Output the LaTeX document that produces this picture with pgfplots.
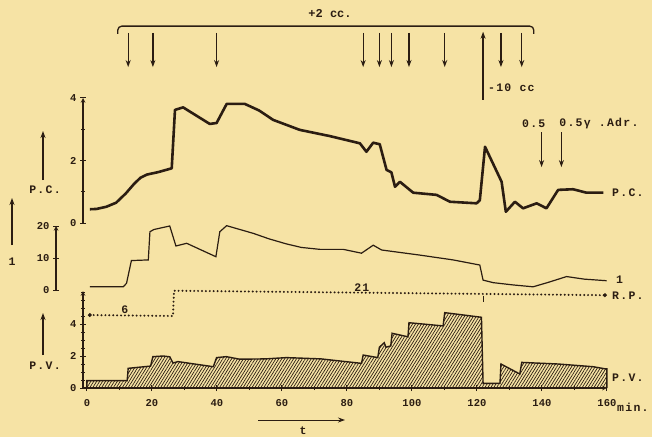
\documentclass[border=0pt]{standalone}
\usepackage{fontspec}
\setmainfont{Liberation Mono}
\newfontfamily\tw{Liberation Mono}[LetterSpace=11]
\usepackage{pgfplots}
\pgfplotsset{compat=1.18}
\usetikzlibrary{patterns.meta,arrows.meta}
\definecolor{paper}{HTML}{F6E3A5}
\definecolor{ink}{HTML}{2B1D12}
\pgfplotsset{base/.style={x=3.25pt, xmax=160, clip=false,
  axis line style={ink, line width=1.1pt, -},
  tick style={ink, line width=1pt},
  major tick length=6pt, minor tick length=4pt, tick align=center,
  tick label style={font=\fontsize{10.5}{12}\selectfont\bfseries, text=ink},
  /pgf/number format/assume math mode=true}}
\tikzset{arr/.style={ink, line width=1.3pt, -{Stealth[length=7pt,width=5pt]}},
  lab/.style={text=ink, font=\tw\bfseries\fontsize{11.5}{13}\selectfont, inner sep=0pt}}
\begin{document}
\begin{tikzpicture}
\path[use as bounding box, fill=paper] (0,0) rectangle (652pt,437pt);
% ---------- P.V. panel ----------
\begin{axis}[base, at={(83pt,49pt)}, anchor=south west,
  xmin=-1.2, ymin=0, ymax=6.06, y=16pt,
  axis x line=bottom, axis y line=left,
  xtick={0,20,...,160}, minor xtick={10,30,...,150},
  ytick={0,2,4}, minor ytick={0.5,1,...,6},
  xticklabel style={yshift=-5pt}]
\addplot[ink, line width=1.4pt, pattern={Lines[angle=58, distance=2.5pt, line width=0.7pt]}, pattern color=ink] coordinates {
(0,0) (0,0.46) (12.4,0.46) (12.7,1.23) (19.6,1.37) (20.3,1.96) (23.5,2.0) (25.5,1.95) (26.5,1.56) (28,1.65) (38.9,1.33) (39.9,1.9) (42.9,1.96) (47,1.8) (55,1.82) (61.4,1.9) (72,1.82) (84.5,1.54) (85,2.06) (89.5,1.9) (90,2.55) (91.5,2.83) (92,2.55) (93.5,2.63) (93.9,3.42) (98.8,3.2) (99.1,4.08) (109.6,3.88) (110.1,4.71) (121.4,4.42) (121.9,0.29) (127.1,0.29) (127.4,1.5) (133.2,0.875) (133.8,1.6) (145,1.5) (155.8,1.33) (159.4,1.2) (160,1.2) (160,0)};
% R.P.
\addplot[ink, line width=2.2pt, line cap=round, dash pattern=on 0pt off 3.9pt] coordinates {
(0.9,4.56) (26.5,4.5) (26.8,6.08) (159.4,5.8)};
\addplot[ink, only marks, mark=*, mark size=1.8pt] coordinates {(0.9,4.56) (159.4,5.8)};
\draw[ink, line width=0.8pt] (122,5.78) -- (122,5.35);
\node[lab, anchor=south] at (11.7,4.62) {6};
\node[lab, anchor=south] at (84.6,6.02) {21};
\end{axis}
% ---------- concentration panel ----------
\begin{axis}[base, at={(56pt,147pt)}, anchor=south west,
  xmin=-9.5, ymin=0, ymax=20, y=3.2pt,
  axis x line=none, axis y line=left,
  ytick={0,10,20}]
\addplot[ink, line width=1.2pt] coordinates {
(0.9,1.0) (11.2,1.0) (12.2,2.1) (13.7,9.2) (18.9,9.4) (19.4,18.2) (20.6,18.9) (25.5,20) (27.4,13.75) (30.7,14.6) (39.7,10.4) (40.9,18.2) (43,20.1) (51.2,17.7) (56,16) (61.4,14.4) (66,13.3) (71.7,12.7) (78.9,12.7) (84.5,11.5) (88.1,14) (90.7,12.5) (102.5,10.9) (112.7,9.4) (120.9,7.8) (121.9,3.1) (125,2.3) (131,1.6) (137.3,1.0) (142,2.4) (147.6,4.2) (153,3.4) (159.9,2.9)};
\end{axis}
% ---------- P.C. panel ----------
\begin{axis}[base, at={(83pt,214pt)}, anchor=south west,
  xmin=-1.2, ymin=0, ymax=4, y=31.25pt,
  axis x line=none, axis y line=left,
  ytick={0,2,4}, minor ytick={1,3}]
\addplot[ink, line width=2.6pt, line join=round] coordinates {
(0.9,0.44) (3,0.45) (6,0.52) (9,0.65) (12,0.95) (14.5,1.25) (16.5,1.45) (18.5,1.55) (22,1.63) (26.1,1.75) (27.1,3.62) (29.6,3.7) (37.8,3.17) (39.9,3.2) (43,3.81) (48.6,3.81) (53,3.6) (57.3,3.3) (65.5,2.98) (74.8,2.78) (84,2.55) (86,2.28) (88.1,2.57) (90.1,2.52) (92.2,1.7) (93.7,1.62) (94.8,1.16) (96.3,1.32) (100.4,0.97) (107.6,0.9) (111.7,0.68) (119.9,0.63) (120.9,0.73) (122.5,2.44) (127.6,1.32) (128.9,0.36) (131.7,0.68) (134.2,0.47) (138.4,0.63) (141.4,0.47) (145,1.06) (149.6,1.08) (153.7,0.97) (158.9,0.97)};
% top bracket and injection arrows
\draw[ink, line width=1.3pt, rounded corners=4pt] (9.5,6.05) |- (137.5,6.30) -- (137.5,6.05);
\node[lab, font=\bfseries\fontsize{12}{13}\selectfont] at (74.8,6.70) {+2 cc.};
\pgfplotsinvokeforeach{12.7,20.3,39.9,85,90,93.7,99.1,110.1,127.4,133.8}{
  \draw[arr] (#1,6.08) -- (#1,4.99);}
\draw[arr] (121.9,3.94) -- (121.9,6.12);
\node[lab, anchor=west] at (123.4,4.32) {-10 cc};
\draw[arr] (139.9,2.91) -- (139.9,1.79);
\draw[arr] (146,2.91) -- (146,1.79);
\node[lab] at (137.5,3.17) {0.5};
\node[lab, anchor=west] at (145.3,3.17) {0.5γ .Adr.};
\end{axis}
% ---------- side labels ----------
\draw[arr] (43pt,257pt) -- (43pt,306pt);
\node[lab] at (45pt,247pt) {P.C.};
\draw[arr] (12pt,192pt) -- (12pt,239pt);
\node[lab] at (12pt,175pt) {1};
\draw[arr] (43pt,82pt) -- (43pt,124pt);
\node[lab] at (45pt,71pt) {P.V.};
\node[lab, anchor=west] at (612pt,244pt) {P.C.};
\node[lab, anchor=west] at (616pt,157pt) {1};
\node[lab, anchor=west] at (612pt,141pt) {R.P.};
\node[lab, anchor=west] at (612pt,59pt) {P.V.};
\node[lab, anchor=west] at (617pt,30pt) {min.};
\draw[arr, line width=1pt] (258pt,17pt) -- (345pt,17pt);
\node[lab] at (303pt,6pt) {t};
\end{tikzpicture}
\end{document}
